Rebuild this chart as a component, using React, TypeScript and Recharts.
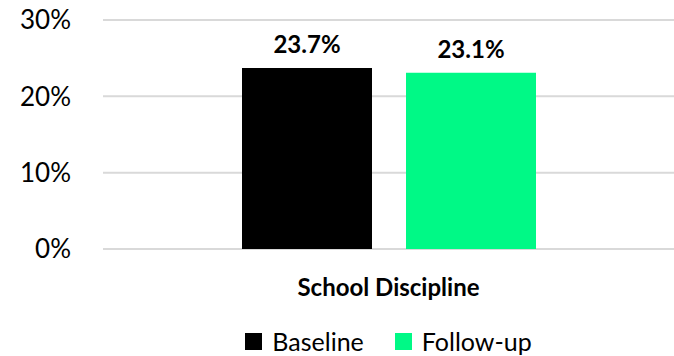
import React from "react";
import { BarChart, Bar, XAxis, YAxis, CartesianGrid, Legend, LabelList } from "recharts";

const categories = ["School Discipline"];
const baseline = [23.7];
const followUp = [23.1];
const yTicks = [0, 10, 20, 30];

const SERIES = [
  { key: "baseline", name: "Baseline", color: "#000000" },
  { key: "followUp", name: "Follow-up", color: "#00F986" },
];

const FONT = "Lato, 'Open Sans', sans-serif";

const data = categories.map((c, i) => ({ category: c, baseline: baseline[i], followUp: followUp[i] }));

function CategoryTick({ x, y, payload }: any) {
  return (
    <text x={x} y={y + 39} textAnchor="middle" fontFamily={FONT} fontSize={24} fontWeight={700} fill="#000">
      {payload.value}
    </text>
  );
}

// legend sits centred under the plot area, not the whole chart
function LegendContent() {
  return (
    <div
      style={{
        display: "flex",
        justifyContent: "center",
        gap: 31,
        paddingLeft: 103,
        fontFamily: FONT,
        fontSize: 25,
        color: "#000",
        lineHeight: "30px",
      }}
    >
      {SERIES.map((s) => (
        <div key={s.key} style={{ display: "flex", alignItems: "center", gap: 10 }}>
          <span style={{ width: 17, height: 17, background: s.color, display: "inline-block" }} />
          <span>{s.name}</span>
        </div>
      ))}
    </div>
  );
}

export default function App() {
  return (
    <div style={{ position: "absolute", left: 0, top: 0, width: 674, height: 356, background: "#fff" }}>
      <BarChart
        width={674}
        height={356}
        data={data}
        margin={{ top: 20, right: 0, left: 0, bottom: 0 }}
        barSize={130}
        barGap={34}
      >
        <CartesianGrid stroke="#D9D9D9" strokeWidth={2} vertical={false} />
        <XAxis dataKey="category" axisLine={false} tickLine={false} height={77} tick={<CategoryTick />} />
        <YAxis
          domain={[0, 30]}
          ticks={yTicks}
          width={103}
          axisLine={false}
          tickLine={false}
          tickMargin={26}
          tickFormatter={(v) => `${v}%`}
          tick={{ fontFamily: FONT, fontSize: 26, fill: "#000" }}
        />
        <Legend verticalAlign="bottom" height={30} content={<LegendContent />} />
        {SERIES.map((s) => (
          <Bar key={s.key} dataKey={s.key} name={s.name} fill={s.color} isAnimationActive={false}>
            <LabelList
              dataKey={s.key}
              position="top"
              offset={15}
              formatter={(v: any) => `${Number(v).toFixed(1)}%`}
              style={{ fontFamily: FONT, fontSize: 24, fontWeight: 700, fill: "#000" }}
            />
          </Bar>
        ))}
      </BarChart>
    </div>
  );
}
